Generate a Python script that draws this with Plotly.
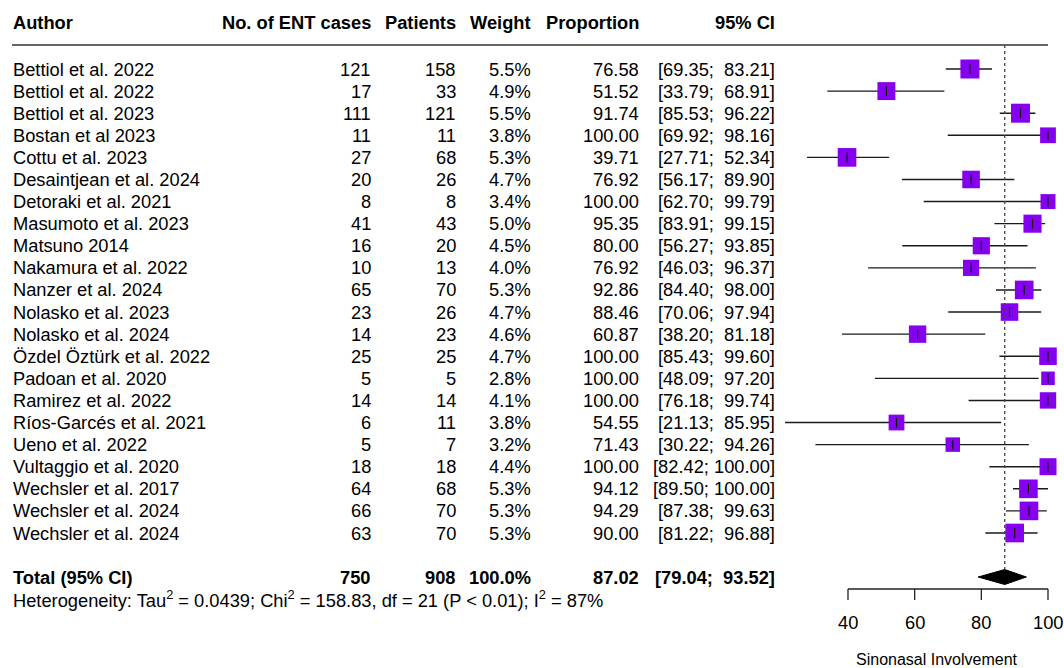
import numpy as np
import plotly.graph_objects as go

authors = ["Bettiol et al. 2022", "Bettiol et al. 2022", "Bettiol et al. 2023", "Bostan et al 2023",
           "Cottu et al. 2023", "Desaintjean et al. 2024", "Detoraki et al. 2021", "Masumoto et al. 2023",
           "Matsuno 2014", "Nakamura et al. 2022", "Nanzer et al. 2024", "Nolasko et al. 2023",
           "Nolasko et al. 2024", "Özdel Öztürk et al. 2022", "Padoan et al. 2020", "Ramirez et al. 2022",
           "Ríos-Garcés et al. 2021", "Ueno et al. 2022", "Vultaggio et al. 2020", "Wechsler et al. 2017",
           "Wechsler et al. 2024", "Wechsler et al. 2024"]
ent_cases = [121, 17, 111, 11, 27, 20, 8, 41, 16, 10, 65, 23, 14, 25, 5, 14, 6, 5, 18, 64, 66, 63]
patients = [158, 33, 121, 11, 68, 26, 8, 43, 20, 13, 70, 26, 23, 25, 5, 14, 11, 7, 18, 68, 70, 70]
weights = [5.5, 4.9, 5.5, 3.8, 5.3, 4.7, 3.4, 5.0, 4.5, 4.0, 5.3, 4.7, 4.6, 4.7, 2.8, 4.1, 3.8, 3.2, 4.4, 5.3, 5.3, 5.3]
proportion = [76.58, 51.52, 91.74, 100.00, 39.71, 76.92, 100.00, 95.35, 80.00, 76.92, 92.86, 88.46,
              60.87, 100.00, 100.00, 100.00, 54.55, 71.43, 100.00, 94.12, 94.29, 90.00]
ci_low = [69.35, 33.79, 85.53, 69.92, 27.71, 56.17, 62.70, 83.91, 56.27, 46.03, 84.40, 70.06,
          38.20, 85.43, 48.09, 76.18, 21.13, 30.22, 82.42, 89.50, 87.38, 81.22]
ci_high = [83.21, 68.91, 96.22, 98.16, 52.34, 89.90, 99.79, 99.15, 93.85, 96.37, 98.00, 97.94,
           81.18, 99.60, 97.20, 99.74, 85.95, 94.26, 100.00, 100.00, 99.63, 96.88]

total_label = "Total (95% CI)"
total_cases = 750
total_patients = 908
total_weight = "100.0%"
total_prop = 87.02
total_low = 79.04
total_high = 93.52
heterogeneity = "Heterogeneity: Tau<sup>2</sup> = 0.0439; Chi<sup>2</sup> = 158.83, df = 21 (P &lt; 0.01); I<sup>2</sup> = 87%"
headers = ["Author", "No. of ENT cases", "Patients", "Weight", "Proportion", "95% CI"]
axis_ticks = [40, 60, 80, 100]
axis_title = "Sinonasal Involvement"

W, H = 1064, 668
FONT = "Liberation Sans, Arial, sans-serif"
FS = 18.3
PURPLE = "#8400EE"

n = len(authors)
rows = np.arange(n)
# row coordinate system: row 0 at px 69, row 21 at px 533
px_per_row = (533 - 69) / 21.0
def row_of(px):
    return (px - 69) / px_per_row

y_top = row_of(0)
y_bot = row_of(H)

# x: 40 -> 848 px, 100 -> 1048 px
px_per_unit = 200 / 60.0
x0 = 40 - 848 / px_per_unit
x1 = 100 + (W - 1048) / px_per_unit

fig = go.Figure()

# CI lines
for i in range(n):
    fig.add_trace(go.Scatter(x=[ci_low[i], ci_high[i]], y=[rows[i], rows[i]], mode="lines",
                             line=dict(color="#1a1a1a", width=1.4), hoverinfo="skip", showlegend=False))

# boxes
sizes = [8.1 * np.sqrt(w) for w in weights]
fig.add_trace(go.Scatter(x=proportion, y=rows, mode="markers",
                         marker=dict(symbol="square", size=sizes, color=PURPLE, opacity=1, line=dict(width=0)),
                         hoverinfo="skip", showlegend=False))
# estimate tick
fig.add_trace(go.Scatter(x=proportion, y=rows, mode="markers",
                         marker=dict(symbol="line-ns", size=7, line=dict(color="#111111", width=1.2)),
                         hoverinfo="skip", showlegend=False))

# diamond
total_row = row_of(577)
dh = 7.5 / px_per_row
fig.add_trace(go.Scatter(x=[total_low, total_prop, total_high, total_prop, total_low],
                         y=[total_row, total_row - dh, total_row, total_row + dh, total_row],
                         mode="lines", fill="toself", fillcolor="black", line=dict(color="black", width=1),
                         hoverinfo="skip", showlegend=False))

shapes = []
# header line
shapes.append(dict(type="line", xref="paper", yref="y", x0=12 / W, x1=1048 / W,
                   y0=row_of(45), y1=row_of(45), line=dict(color="#333333", width=1.5)))
# dotted line at pooled estimate
shapes.append(dict(type="line", xref="x", yref="y", x0=total_prop, x1=total_prop,
                   y0=row_of(45), y1=total_row - dh, line=dict(color="#444444", width=1.3, dash="dot")))
# axis line
axis_y = row_of(589)
shapes.append(dict(type="line", xref="x", yref="y", x0=axis_ticks[0], x1=axis_ticks[-1],
                   y0=axis_y, y1=axis_y, line=dict(color="#222222", width=1.3)))
for t in axis_ticks:
    shapes.append(dict(type="line", xref="x", yref="y", x0=t, x1=t, y0=axis_y, y1=row_of(600),
                       line=dict(color="#222222", width=1.3)))

ann = []
def txt(x_px, y, text, anchor="left", bold=False, size=FS):
    t = f"<b>{text}</b>" if bold else text
    ann.append(dict(x=x_px / W, xref="paper", y=y, yref="y", text=t, showarrow=False,
                    xanchor=anchor, yanchor="middle", font=dict(family=FONT, size=size, color="black")))

col_right = [373, 458, 533, 641, 777]
hy = row_of(22)
txt(11, hy, headers[0], "left", True)
for h, xr in zip(headers[1:], col_right):
    txt(xr, hy, h, "right", True)

def ci_str(lo, hi):
    return f"[{lo:5.2f};{hi:7.2f}]".replace(" ", "\u00a0")

for i in range(n):
    txt(11, rows[i], authors[i])
    txt(col_right[0], rows[i], str(ent_cases[i]), "right")
    txt(col_right[1], rows[i], str(patients[i]), "right")
    txt(col_right[2], rows[i], f"{weights[i]:.1f}%", "right")
    txt(col_right[3], rows[i], f"{proportion[i]:.2f}", "right")
    txt(col_right[4], rows[i], ci_str(ci_low[i], ci_high[i]), "right")

txt(11, total_row, total_label, "left", True)
txt(col_right[0], total_row, str(total_cases), "right", True)
txt(col_right[1], total_row, str(total_patients), "right", True)
txt(col_right[2], total_row, total_weight, "right", True)
txt(col_right[3], total_row, f"{total_prop:.2f}", "right", True)
txt(col_right[4], total_row, ci_str(total_low, total_high), "right", True)
txt(11, row_of(599), heterogeneity, "left")

for t in axis_ticks:
    ann.append(dict(x=t, xref="x", y=row_of(622), yref="y", text=str(t), showarrow=False,
                    xanchor="center", yanchor="middle", font=dict(family=FONT, size=FS, color="black")))
ann.append(dict(x=937 / W, xref="paper", y=row_of(659), yref="y", text=axis_title, showarrow=False,
                xanchor="center", yanchor="middle", font=dict(family=FONT, size=16, color="black")))

fig.update_layout(
    width=W, height=H, margin=dict(l=0, r=0, t=0, b=0),
    paper_bgcolor="white", plot_bgcolor="white",
    xaxis=dict(range=[x0, x1], visible=False, showgrid=False, zeroline=False),
    yaxis=dict(range=[y_bot, y_top], visible=False, showgrid=False, zeroline=False),
    shapes=shapes, annotations=ann, showlegend=False,
)
fig.write_html("out.html", config={"displayModeBar": False},
               post_script="document.body.style.margin='0';document.body.style.overflow='hidden';")
